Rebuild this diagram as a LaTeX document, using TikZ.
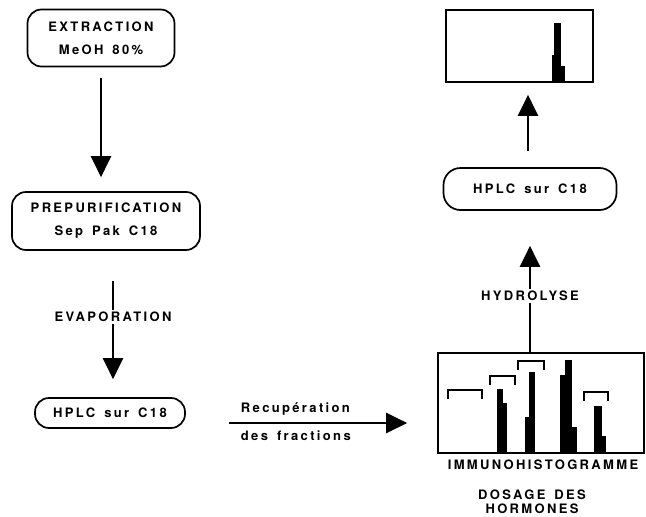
\documentclass[tikz,border=0pt]{standalone}
\usepackage{fontspec}
\setmainfont{TeX Gyre Heros}[LetterSpace=18]
\usetikzlibrary{positioning, arrows.meta}
\newcommand{\wsp}{\hspace{9pt}}

\begin{document}
\begin{tikzpicture}[x=1pt, y=-1pt, font=\bfseries\fontsize{13}{23}\selectfont,
    box/.style={draw, line width=1.7pt, rounded corners=14pt, align=center, inner sep=0pt},
    plot/.style={draw, line width=1.7pt, inner sep=0pt},
    flow/.style={line width=2.8pt, -{Triangle[width=20pt,length=21pt]}},
    lbl/.style={fill=white, inner sep=2pt}]
    \useasboundingbox (0,0) rectangle (646,517);
    % left column
    \node[box, minimum width=147pt, minimum height=57pt] (extr) at (101,38) {EXTRACTION\\MeOH\wsp 80\%};
    \node[box, minimum width=188pt, minimum height=58pt] (prep) at (106,221) {PREPURIFICATION\\Sep\wsp Pak\wsp C18};
    \node[box, minimum width=150pt, minimum height=30pt] (hplcA) at (110,413) {HPLC\wsp sur\wsp C18};
    % right column
    \node[plot, minimum width=206pt, minimum height=100pt] (histo) at (541,403) {};
    \node[box, minimum width=173pt, minimum height=42pt, rounded corners=17pt] (hplcB) at (530,189) {HPLC\wsp sur\wsp C18};
    \node[plot, minimum width=147pt, minimum height=72pt] (chrom) at (519.5,46) {};
    \node (immuno) at (543,465) {IMMUNOHISTOGRAMME};
    \node[align=center, anchor=south, inner sep=0pt, font=\bfseries\fontsize{13}{14}\selectfont] (dosage) at (532,514) {DOSAGE\wsp DES\\HORMONES};
    % arrows
    \draw[flow, shorten <=11pt, shorten >=14pt] (extr.south) -- (extr.south |- prep.north);
    \draw[flow, shorten <=30pt, shorten >=18pt] ([xshift=7pt]prep.south) -- ([xshift=3pt]hplcA.north)
        node[lbl, pos=0.45] (evap) {EVAPORATION};
    \draw[flow, shorten <=43pt, shorten >=30pt] ([yshift=-10pt]hplcA.east) -- ([yshift=-10pt]hplcA.east -| histo.west)
        node[pos=0.3, anchor=south west, xshift=-25pt, yshift=3pt] (recup) {Recup\'eration}
        node[pos=0.3, anchor=north west, xshift=-25pt, yshift=-3pt] (fract) {des\wsp fractions};
    \draw[flow, shorten >=35pt] (hplcB |- histo.north) -- (hplcB.south)
        node[lbl, pos=0.4] (hydro) {HYDROLYSE};
    \draw[flow, shorten <=16pt, shorten >=12pt] ([xshift=-2pt]hplcB.north) -- ([xshift=-2pt]hplcB.north |- chrom.south);
    % immunohistogram peaks
    \foreach \xa/\xb/\yt in {497/503/389, 503/507/403, 525/529/417, 529/535/372,
                              560/565/375, 565/572/360, 572/577/427, 594/602/406, 602/606/436}
        \fill (\xa,\yt) rectangle (\xb,453);
    \foreach \xa/\xb/\yt in {448/482/390, 490/515/376, 518/544/361, 584/608/392}
        \draw[line width=1.6pt] (\xa,\yt+9) -- (\xa,\yt) -- (\xb,\yt) -- (\xb,\yt+9);
    % HPLC peak
    \foreach \xa/\xb/\yt in {552/554/55, 554/561/23, 561/565/66}
        \fill (\xa,\yt) rectangle (\xb,81);
\end{tikzpicture}
\end{document}
